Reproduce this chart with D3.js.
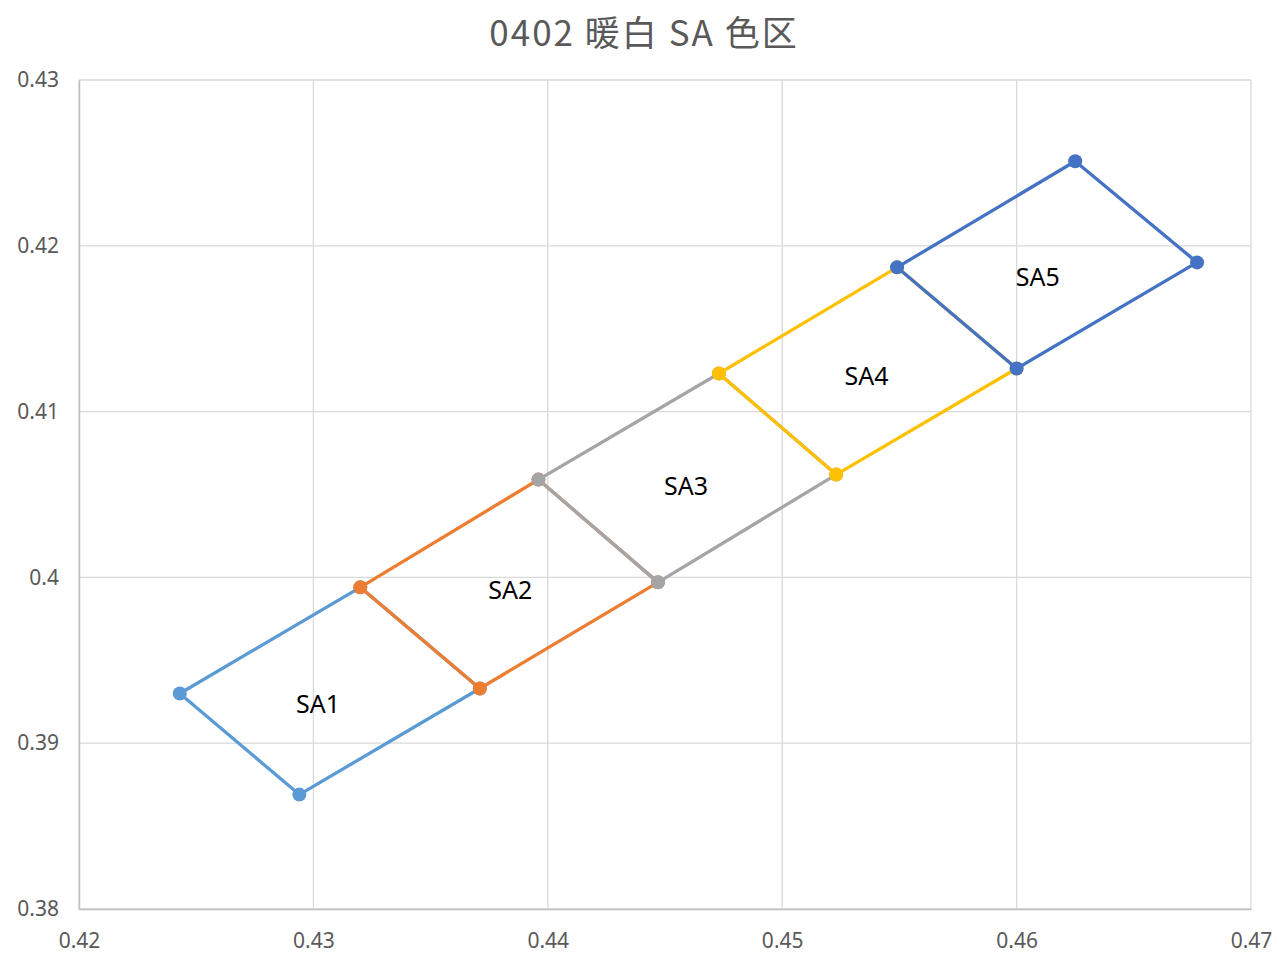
<!DOCTYPE html>
<html>
<head>
<meta charset="utf-8">
<script src="https://cdn.jsdelivr.net/npm/d3@7"></script>
<style>
  html, body { margin: 0; padding: 0; background: #fff; }
  svg { display: block; }
</style>
</head>
<body>
<div id="chart"></div>
<script>
// bin names and corner points (x, y chromaticity), each closed back to start
const binNames = ["SA1", "SA2", "SA3", "SA4", "SA5"];
const binColors = ["#5B9BD5", "#ED7D31", "#A5A5A5", "#FFC000", "#4472C4"];
const binX = [
  [0.4243, 0.4294, 0.4371, 0.4320, 0.4243],
  [0.4320, 0.4371, 0.4447, 0.4396, 0.4320],
  [0.4396, 0.4447, 0.4523, 0.4473, 0.4396],
  [0.4473, 0.4523, 0.4600, 0.4549, 0.4473],
  [0.4549, 0.4600, 0.4677, 0.4625, 0.4549]
];
const binY = [
  [0.3930, 0.3869, 0.3933, 0.3994, 0.3930],
  [0.3994, 0.3933, 0.3997, 0.4059, 0.3994],
  [0.4059, 0.3997, 0.4062, 0.4123, 0.4059],
  [0.4123, 0.4062, 0.4126, 0.4187, 0.4123],
  [0.4187, 0.4126, 0.4190, 0.4251, 0.4187]
];
// where the bin name sits
const labelX = [0.4302, 0.4384, 0.4459, 0.4536, 0.4609];
const labelY = [0.3924, 0.3993, 0.4056, 0.4122, 0.4182];

const xTicks = [0.42, 0.43, 0.44, 0.45, 0.46, 0.47];
const yTicks = [0.38, 0.39, 0.40, 0.41, 0.42, 0.43];
const title = "0402 暖白 SA 色区";

const width = 1287, height = 961;
const margin = {top: 80, right: 36, bottom: 52, left: 79};

const svg = d3.select("#chart").append("svg")
    .attr("width", width)
    .attr("height", height);

const x = d3.scaleLinear().domain([0.42, 0.47]).range([margin.left, width - margin.right]);
const y = d3.scaleLinear().domain([0.38, 0.43]).range([height - margin.bottom, margin.top]);

// title
svg.append("text")
    .attr("x", 644)
    .attr("y", 46)
    .attr("text-anchor", "middle")
    .style("font-family", "'Noto Sans CJK SC', 'Noto Sans', sans-serif")
    .style("font-size", "35px")
    .style("letter-spacing", "2px")
    .style("fill", "#595959")
    .text(title);

// grid lines
const grid = svg.append("g");
grid.selectAll("line.v")
    .data(xTicks)
    .enter().append("line")
    .attr("class", "v")
    .attr("x1", d => x(d)).attr("x2", d => x(d))
    .attr("y1", y(0.43)).attr("y2", y(0.38))
    .attr("stroke", "#D9D9D9")
    .attr("stroke-width", 1.3);
grid.selectAll("line.h")
    .data(yTicks)
    .enter().append("line")
    .attr("class", "h")
    .attr("x1", x(0.42)).attr("x2", x(0.47))
    .attr("y1", d => y(d)).attr("y2", d => y(d))
    .attr("stroke", "#D9D9D9")
    .attr("stroke-width", 1.3);

// axes (lines only, labels via tickFormat)
const xAxis = d3.axisBottom(x).tickValues(xTicks).tickSize(0).tickPadding(24)
    .tickFormat(d => d3.format(".2f")(d));
const yAxis = d3.axisLeft(y).tickValues(yTicks).tickSize(0).tickPadding(20)
    .tickFormat(d => (d === 0.40 ? "0.4" : d3.format(".2f")(d)));

const gx = svg.append("g")
    .attr("transform", `translate(0, ${y(0.38)})`)
    .call(xAxis);
const gy = svg.append("g")
    .attr("transform", `translate(${x(0.42)}, 0)`)
    .call(yAxis);

[gx, gy].forEach(g => {
  g.select(".domain").attr("stroke", "#BFBFBF").attr("stroke-width", 1.5);
  g.selectAll("text")
    .style("font-family", "'Noto Sans', sans-serif")
    .style("font-size", "21px")
    .style("fill", "#595959");
});

// bins
const line = d3.line()
    .x(d => x(d[0]))
    .y(d => y(d[1]));

binNames.forEach((name, i) => {
  const pts = binX[i].map((v, j) => [v, binY[i][j]]);
  const g = svg.append("g");
  g.append("path")
    .attr("d", line(pts))
    .attr("fill", "none")
    .attr("stroke", binColors[i])
    .attr("stroke-width", 3.3)
    .attr("stroke-linejoin", "round");
  g.selectAll("circle")
    .data(pts.slice(0, 4))
    .enter().append("circle")
    .attr("cx", d => x(d[0]))
    .attr("cy", d => y(d[1]))
    .attr("r", 7)
    .attr("fill", binColors[i]);
});

svg.append("g").selectAll("text")
    .data(binNames)
    .enter().append("text")
    .attr("x", (d, i) => x(labelX[i]))
    .attr("y", (d, i) => y(labelY[i]))
    .attr("text-anchor", "middle")
    .attr("dominant-baseline", "central")
    .style("font-family", "'Noto Sans', sans-serif")
    .style("font-size", "25px")
    .style("fill", "#000")
    .text(d => d);
</script>
</body>
</html>
